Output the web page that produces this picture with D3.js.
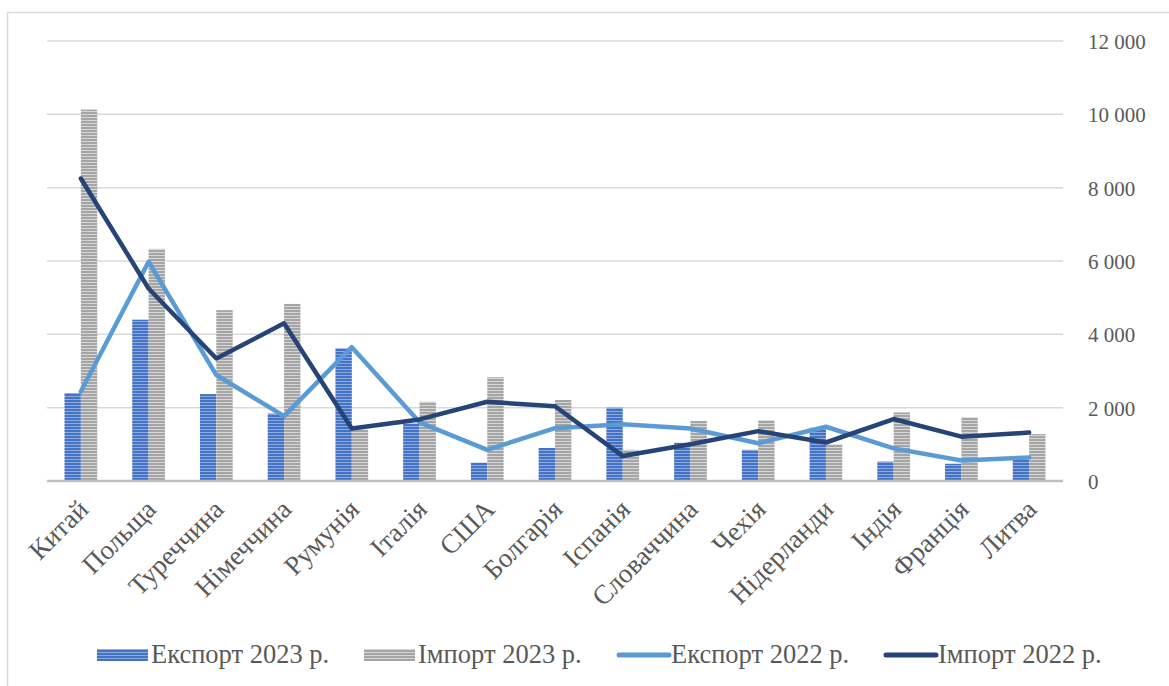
<!DOCTYPE html>
<html>
<head>
<meta charset="utf-8">
<script src="https://cdn.jsdelivr.net/npm/d3@7"></script>
<style>
  html, body { margin: 0; padding: 0; background: #fff; }
  svg { display: block; }
</style>
</head>
<body>
<div id="chart"></div>
<script>
const categories = ["Китай","Польща","Туреччина","Німеччина","Румунія","Італія","США","Болгарія","Іспанія","Словаччина","Чехія","Нідерланди","Індія","Франція","Литва"];
const export2023 = [2400, 4400, 2370, 1840, 3620, 1570, 500, 900, 2000, 1040, 850, 1450, 530, 470, 580];
const import2023 = [10130, 6330, 4660, 4830, 1400, 2160, 2830, 2210, 850, 1640, 1660, 1000, 1870, 1740, 1280];
const export2022 = [2440, 5980, 2890, 1770, 3650, 1600, 850, 1440, 1550, 1430, 1030, 1480, 890, 560, 640];
const import2022 = [8250, 5250, 3340, 4300, 1430, 1680, 2160, 2040, 680, 1000, 1360, 1050, 1690, 1210, 1320];
const yTicks = [0, 2000, 4000, 6000, 8000, 10000, 12000];
const seriesNames = ["Експорт 2023 р.", "Імпорт 2023 р.", "Експорт 2022 р.", "Імпорт 2022 р."];

const W = 1169, H = 686;
const mLeft = 47, mRight = 1063, mTop = 41, mBottom = 481;
const FONT = "'Liberation Serif', 'Times New Roman', serif";

const svg = d3.select("#chart").append("svg").attr("width", W).attr("height", H);
const defs = svg.append("defs");

function stripe(id, light, dark) {
  const p = defs.append("pattern").attr("id", id).attr("patternUnits", "userSpaceOnUse")
    .attr("width", 6).attr("height", 3);
  p.append("rect").attr("width", 6).attr("height", 3).attr("fill", light);
  p.append("rect").attr("y", 1).attr("width", 6).attr("height", 2).attr("fill", dark);
}
stripe("pBlue", "#8eaadf", "#4472C4");
stripe("pGray", "#d6d6d6", "#a5a5a5");

// outer border
svg.append("rect").attr("x", 7.5).attr("y", 12.5).attr("width", W).attr("height", H)
  .attr("fill", "none").attr("stroke", "#d9d9d9").attr("stroke-width", 1.5);

const x = d3.scaleBand().domain(categories).range([mLeft, mRight]).padding(0);
const x1 = d3.scaleBand().domain(["e", "i"]).range([0, x.bandwidth()]).paddingInner(0).paddingOuter(1.07);
const y = d3.scaleLinear().domain([0, 12000]).range([mBottom, mTop]);

// gridlines
svg.append("g").selectAll("line").data(yTicks.filter(d => d > 0)).join("line")
  .attr("x1", mLeft).attr("x2", mRight)
  .attr("y1", d => y(d)).attr("y2", d => y(d))
  .attr("stroke", "#d9d9d9").attr("stroke-width", 1.5);

// right axis labels
const fmt = d => d3.format(",")(d).replace(/,/g, " ");
const yAxis = d3.axisRight(y).tickValues(yTicks).tickSize(0).tickPadding(0).tickFormat(fmt);
const gy = svg.append("g").attr("transform", `translate(${mRight + 25},0)`).call(yAxis);
gy.select(".domain").remove();
gy.selectAll("text").attr("font-family", FONT)
  .attr("font-size", 21).attr("fill", "#595959").attr("dy", "0.35em");

// bars
const g = svg.append("g");
g.selectAll(".be").data(categories).join("rect")
  .attr("x", (d) => x(d) + x1("e")).attr("width", x1.bandwidth())
  .attr("y", (d, i) => y(export2023[i])).attr("height", (d, i) => mBottom - y(export2023[i]))
  .attr("fill", "url(#pBlue)");
g.selectAll(".bi").data(categories).join("rect")
  .attr("x", (d) => x(d) + x1("i")).attr("width", x1.bandwidth())
  .attr("y", (d, i) => y(import2023[i])).attr("height", (d, i) => mBottom - y(import2023[i]))
  .attr("fill", "url(#pGray)");

// baseline axis
svg.append("line").attr("x1", mLeft).attr("x2", mRight).attr("y1", mBottom).attr("y2", mBottom)
  .attr("stroke", "#bfbfbf").attr("stroke-width", 2.5);

// lines
const cx = d => x(d) + x.bandwidth() / 2;
const lineGen = vals => d3.line().x((d, i) => cx(categories[i])).y((d) => y(d))(vals);
svg.append("path").attr("d", lineGen(export2022)).attr("fill", "none")
  .attr("stroke", "#5b9bd5").attr("stroke-width", 4.5).attr("stroke-linejoin", "round").attr("stroke-linecap", "round");
svg.append("path").attr("d", lineGen(import2022)).attr("fill", "none")
  .attr("stroke", "#264478").attr("stroke-width", 4.5).attr("stroke-linejoin", "round").attr("stroke-linecap", "round");

// x labels
const xAxis = d3.axisBottom(x).tickSize(0).tickPadding(0);
const gx = svg.append("g").attr("transform", `translate(0,${mBottom})`).call(xAxis);
gx.select(".domain").remove();
gx.selectAll("text")
  .attr("font-family", FONT)
  .attr("font-size", 27).attr("fill", "#595959")
  .attr("text-anchor", "end")
  .attr("y", 0).attr("dy", 0)
  .attr("transform", "translate(9,30) rotate(-45)");

// legend
const legendY = 655;
const lg = svg.append("g").attr("font-family", FONT)
  .attr("font-size", 26.5).attr("fill", "#595959");
const legendX = [97, 364, 617, 884];
seriesNames.forEach((name, i) => {
  const gi = lg.append("g").attr("transform", `translate(${legendX[i]},${legendY})`);
  if (i < 2) {
    gi.append("rect").attr("x", 0).attr("y", -6).attr("width", 51).attr("height", 12)
      .attr("fill", i === 0 ? "url(#pBlue)" : "url(#pGray)");
  } else {
    gi.append("line").attr("x1", 2).attr("x2", 52).attr("y1", 0).attr("y2", 0)
      .attr("stroke", i === 2 ? "#5b9bd5" : "#264478").attr("stroke-width", 5).attr("stroke-linecap", "round");
  }
  gi.append("text").attr("x", 54).attr("y", 8).text(name);
});
</script>
</body>
</html>
